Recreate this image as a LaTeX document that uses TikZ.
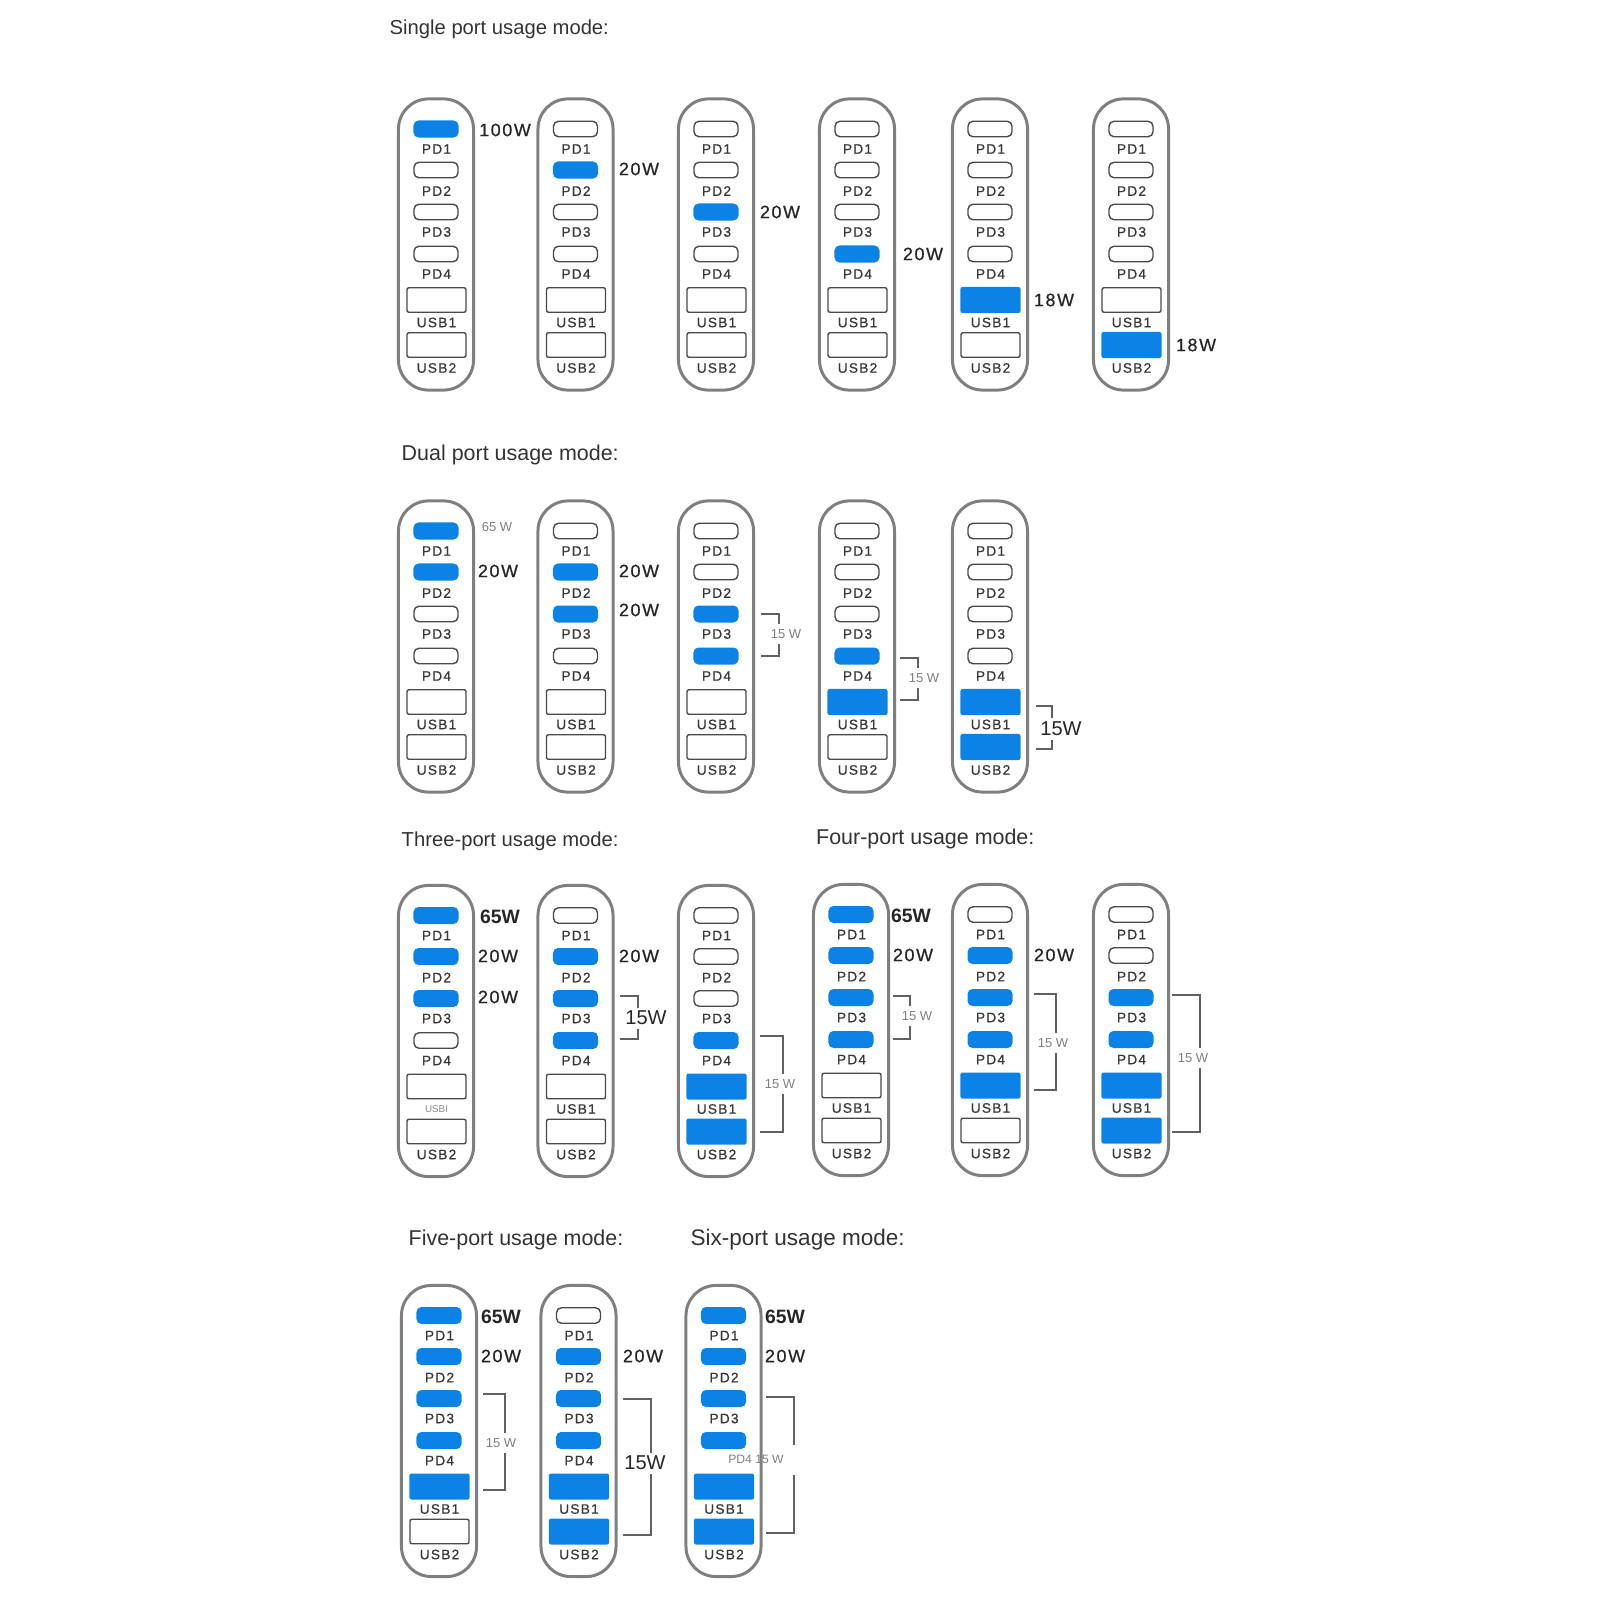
\documentclass[tikz,border=0pt]{standalone}
\usepackage{fontspec}
\setmainfont{Liberation Sans}
\newfontfamily\portfont[LetterSpace=9,FakeBold=0.7]{Liberation Sans}
\usepackage{tikz}
\newcommand{\pdfourtext}{PD4}
\newcommand{\usbonetext}{USB1}
\newcommand{\capsule}[9]{%
  \node[shell] (#1) at (#2,#3+147.5) {};
  \node[pd#4] (#1-pd1) at (#2,#3+32) {};
  \node[portlbl] (#1-l1) at (#2+0.5,#3+52) {PD1};
  \node[pd#5] (#1-pd2) at (#2,#3+73) {};
  \node[portlbl] (#1-l2) at (#2+0.5,#3+94) {PD2};
  \node[pd#6] (#1-pd3) at (#2,#3+115) {};
  \node[portlbl] (#1-l3) at (#2+0.5,#3+135) {PD3};
  \node[pd#7] (#1-pd4) at (#2,#3+157) {};
  \node[portlbl] (#1-l4) at (#2+0.5,#3+177) {\pdfourtext};
  \node[usb#8] (#1-usb1) at (#2+0.5,#3+203) {};
  \node[portlbl] (#1-l5) at (#2+0.5,#3+225.5) {\usbonetext};
  \node[usb#9] (#1-usb2) at (#2+0.5,#3+248) {};
  \node[portlbl] (#1-l6) at (#2+0.5,#3+271) {USB2};
}
\newcommand{\bracket}[5]{%
  \coordinate (#1-a) at (#2,#4);
  \coordinate (#1-b) at (#2,#5);
  \draw[brk] (#1-a) -| (#3,#5) -- (#1-b);
}

\begin{document}
\begin{tikzpicture}[
  x=0.01cm, y=-0.01cm,
  shell/.style={draw=shellgray, line width=0.85pt, rounded corners=0.3cm, minimum width=0.75cm, minimum height=2.91cm, inner sep=0pt},
  pdoff/.style={draw=portgray, fill=white, line width=0.4pt, rounded corners=0.05cm, minimum width=0.44cm, minimum height=0.155cm, inner sep=0pt},
  pdon/.style={fill=portblue, rounded corners=0.05cm, minimum width=0.45cm, minimum height=0.17cm, inner sep=0pt},
  usboff/.style={draw=portgray, fill=white, line width=0.4pt, rounded corners=0.02cm, minimum width=0.59cm, minimum height=0.245cm, inner sep=0pt},
  usbon/.style={fill=portblue, rounded corners=0.02cm, minimum width=0.6cm, minimum height=0.26cm, inner sep=0pt},
  portlbl/.style={font=\portfont\fontsize{3.9}{4}\selectfont, text=black!78, inner sep=0pt},
  head/.style={font=\fontsize{5.75}{6}\selectfont, text=black!80, anchor=west, inner sep=0pt},
  headwide/.style={head, font=\fontsize{6.1}{6}\selectfont},
  watt/.style={font=\portfont\fontsize{5.1}{6}\selectfont, text=black!85, inner sep=0pt},
  wattb/.style={font=\bfseries\fontsize{5.5}{6}\selectfont, text=black!85, inner sep=0pt},
  wattbig/.style={font=\fontsize{5.7}{7}\selectfont, text=black!85, fill=white, inner ysep=1pt, inner xsep=0pt},
  thin15/.style={font=\fontsize{3.7}{4}\selectfont, text=black!50, fill=white, inner ysep=1.5pt, inner xsep=0.5pt},
  brk/.style={draw=black!62, line width=0.4pt}
]
\definecolor{shellgray}{HTML}{7F7F7F}
\definecolor{portgray}{HTML}{4A4A4A}
\definecolor{portblue}{HTML}{0B83E6}
\useasboundingbox (0,0) rectangle (1600,1600);

\node[head] (singlehead) at (389,29.5) {Single port usage mode:};
\capsule{s1}{436}{97}{on}{off}{off}{off}{off}{off}
\capsule{s2}{575.5}{97}{off}{on}{off}{off}{off}{off}
\capsule{s3}{716}{97}{off}{off}{on}{off}{off}{off}
\capsule{s4}{857}{97}{off}{off}{off}{on}{off}{off}
\capsule{s5}{990}{97}{off}{off}{off}{off}{on}{off}
\capsule{s6}{1131}{97}{off}{off}{off}{off}{off}{on}
\node[watt] (s1w) at (505,130) {100W};
\node[watt] (s2w) at (639,169) {20W};
\node[watt] (s3w) at (780,212) {20W};
\node[watt] (s4w) at (923,254) {20W};
\node[watt] (s5w) at (1054,300) {18W};
\node[watt] (s6w) at (1196,345) {18W};

\node[headwide] (dualhead) at (401,455) {Dual port usage mode:};
\capsule{d1}{436}{499}{on}{on}{off}{off}{off}{off}
\capsule{d2}{575.5}{499}{off}{on}{on}{off}{off}{off}
\capsule{d3}{716}{499}{off}{off}{on}{on}{off}{off}
\capsule{d4}{857}{499}{off}{off}{off}{on}{on}{off}
\capsule{d5}{990}{499}{off}{off}{off}{off}{on}{on}
\node[thin15] (d1a) at (497,527) {65 W};
\node[watt] (d1b) at (498,571) {20W};
\node[watt] (d2a) at (639,571) {20W};
\node[watt] (d2b) at (639,610) {20W};
\bracket{d3br}{761}{779}{614}{656}
\node[thin15] (d3w) at (786,634) {15 W};
\bracket{d4br}{900}{918}{658}{700}
\node[thin15] (d4w) at (924,678) {15 W};
\bracket{d5br}{1036}{1052}{706}{749}
\node[wattbig] (d5w) at (1061,729) {15W};

\node[head] (threehead) at (401,841) {Three-port usage mode:};
\begin{scope}
\renewcommand{\usbonetext}{\normalfont\fontsize{2.8}{3}\selectfont\textcolor{black!45}{USBI}}
\capsule{t1}{436}{883.5}{on}{on}{on}{off}{off}{off}
\end{scope}
\capsule{t2}{575.5}{883.5}{off}{on}{on}{on}{off}{off}
\capsule{t3}{716}{883.5}{off}{off}{off}{on}{on}{on}
\node[wattb] (t1a) at (500,917) {65W};
\node[watt] (t1b) at (498,956) {20W};
\node[watt] (t1c) at (498,997) {20W};
\node[watt] (t2a) at (639,956) {20W};
\bracket{t2br}{620}{638}{996}{1039}
\node[wattbig] (t2b) at (646,1018) {15W};
\bracket{t3br}{760}{783}{1036}{1132}
\node[thin15] (t3w) at (780,1084) {15 W};

\node[headwide] (fourhead) at (815.5,839) {Four-port usage mode:};
\capsule{f1}{851}{882.5}{on}{on}{on}{on}{off}{off}
\capsule{f2}{990}{882.5}{off}{on}{on}{on}{on}{off}
\capsule{f3}{1131}{882.5}{off}{off}{on}{on}{on}{on}
\node[wattb] (f1a) at (911,916) {65W};
\node[watt] (f1b) at (913,955) {20W};
\bracket{f1br}{893}{910}{996}{1039}
\node[thin15] (f1c) at (917,1016) {15 W};
\node[watt] (f2a) at (1054,955) {20W};
\bracket{f2br}{1034}{1056}{994}{1090}
\node[thin15] (f2b) at (1053,1043) {15 W};
\bracket{f3br}{1172}{1200}{995}{1132}
\node[thin15] (f3w) at (1193,1058) {15 W};

\node[headwide] (fivehead) at (408,1240) {Five-port usage mode:};
\node[head, font=\fontsize{6.4}{6}\selectfont] (sixhead) at (690,1240) {Six-port usage mode:};
\capsule{v1}{439}{1283.5}{on}{on}{on}{on}{on}{off}
\capsule{v2}{578.5}{1283.5}{off}{on}{on}{on}{on}{on}
\begin{scope}
\renewcommand{\pdfourtext}{}
\capsule{x1}{723.5}{1283.5}{on}{on}{on}{on}{on}{on}
\end{scope}
\node[wattb] (v1a) at (501,1317) {65W};
\node[watt] (v1b) at (501,1356) {20W};
\bracket{v1br}{483}{505}{1394}{1490}
\node[thin15] (v1c) at (501,1443) {15 W};
\node[watt] (v2a) at (643,1356) {20W};
\bracket{v2br}{623}{651}{1399}{1535}
\node[wattbig] (v2b) at (645,1463) {15W};
\node[wattb] (x1a) at (785,1317) {65W};
\node[watt] (x1b) at (785,1356) {20W};
\bracket{x1br}{766}{794}{1397}{1533}
\node[fill=white, minimum width=0.2cm, minimum height=0.3cm, inner sep=0pt] (x1gap) at (794,1460) {};
\node[thin15, fill=none, font=\fontsize{3.45}{4}\selectfont] (x1c) at (756,1459) {PD4 15 W};
\end{tikzpicture}
\end{document}
